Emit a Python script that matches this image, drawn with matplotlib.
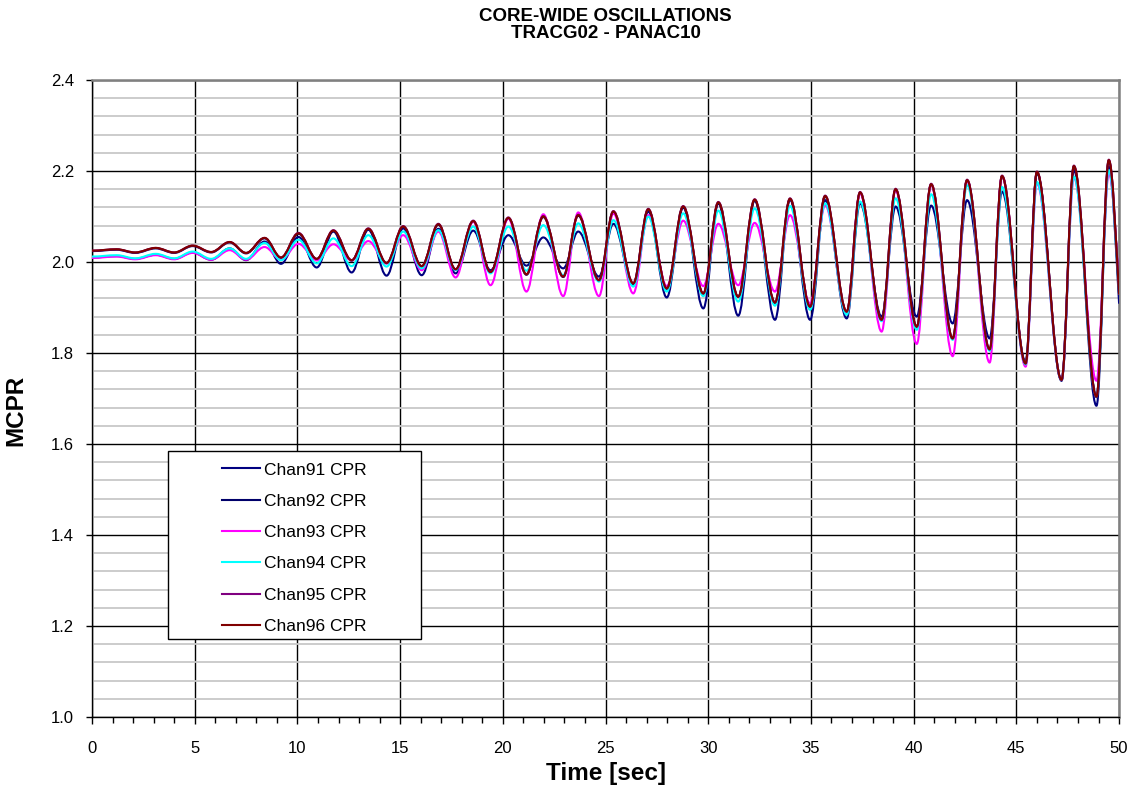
import numpy as np
import matplotlib
matplotlib.use("Agg")
import matplotlib.pyplot as plt
from matplotlib.path import Path
from matplotlib.patches import PathPatch, Rectangle
from matplotlib.lines import Line2D
from matplotlib.ticker import MultipleLocator

plt.rcParams['font.family'] = ['Liberation Sans', 'DejaVu Sans']

# times of the turning points (peaks / troughs) [sec]
t_ext = [0.0, 1.2, 2.1, 3.1, 4.0, 4.9, 5.8, 6.7, 7.5, 8.4, 9.2,
         10.05, 10.94, 11.75, 12.64, 13.45, 14.34, 15.15, 16.05, 16.86, 17.7,
         18.56, 19.4, 20.27, 21.15, 21.97, 22.94, 23.67, 24.68, 25.38, 26.35,
         27.08, 27.98, 28.78, 29.76, 30.49, 31.46, 32.26, 33.25, 33.98, 34.96,
         35.69, 36.74, 37.39, 38.44, 39.12, 40.15, 40.85, 41.9, 42.6, 43.7,
         44.3, 45.45, 46.0, 47.2, 47.8, 48.9, 49.5, 50.0]

# MCPR at those turning points
chan91 = [2.010, 2.013, 2.007, 2.016, 2.007, 2.021, 2.005, 2.030, 2.004, 2.045, 1.996,
          2.055, 1.988, 2.067, 1.977, 2.071, 1.970, 2.074, 1.971, 2.073, 1.975,
          2.069, 1.982, 2.059, 1.992, 2.054, 1.986, 2.067, 1.968, 2.084, 1.949,
          2.111, 1.922, 2.120, 1.898, 2.129, 1.882, 2.135, 1.873, 2.137, 1.873,
          2.136, 1.876, 2.129, 1.880, 2.122, 1.880, 2.124, 1.865, 2.136, 1.832,
          2.155, 1.781, 2.196, 1.739, 2.202, 1.684, 2.209, 1.91]
chan92 = [2.024, 2.027, 2.020, 2.030, 2.020, 2.035, 2.021, 2.043, 2.019, 2.052, 2.009,
          2.062, 2.006, 2.068, 2.003, 2.072, 1.997, 2.077, 1.990, 2.082, 1.983,
          2.089, 1.977, 2.096, 1.972, 2.099, 1.967, 2.102, 1.959, 2.110, 1.952,
          2.115, 1.941, 2.121, 1.930, 2.130, 1.923, 2.136, 1.910, 2.138, 1.901,
          2.144, 1.890, 2.152, 1.872, 2.159, 1.857, 2.170, 1.831, 2.179, 1.807,
          2.188, 1.776, 2.197, 1.740, 2.210, 1.703, 2.223, 1.93]
chan93 = [2.009, 2.012, 2.006, 2.015, 2.006, 2.020, 2.005, 2.026, 2.005, 2.033, 2.005,
          2.040, 2.004, 2.039, 2.004, 2.046, 1.997, 2.059, 1.982, 2.067, 1.966,
          2.089, 1.949, 2.096, 1.935, 2.105, 1.925, 2.109, 1.925, 2.107, 1.931,
          2.103, 1.947, 2.091, 1.947, 2.084, 1.949, 2.086, 1.935, 2.103, 1.909,
          2.125, 1.887, 2.151, 1.847, 2.158, 1.820, 2.170, 1.793, 2.179, 1.779,
          2.188, 1.770, 2.173, 1.741, 2.186, 1.739, 2.195, 1.95]
chan94 = [2.012, 2.015, 2.008, 2.018, 2.008, 2.023, 2.007, 2.030, 2.007, 2.042, 2.004,
          2.049, 1.997, 2.052, 1.991, 2.059, 1.990, 2.067, 1.986, 2.070, 1.982,
          2.078, 1.975, 2.078, 1.981, 2.081, 1.971, 2.085, 1.957, 2.092, 1.946,
          2.100, 1.935, 2.107, 1.925, 2.113, 1.913, 2.118, 1.904, 2.123, 1.895,
          2.129, 1.884, 2.133, 1.870, 2.140, 1.851, 2.149, 1.829, 2.169, 1.805,
          2.165, 1.775, 2.176, 1.741, 2.188, 1.704, 2.202, 1.93]
chan95 = [2.025, 2.028, 2.021, 2.031, 2.021, 2.036, 2.022, 2.044, 2.020, 2.053, 2.010,
          2.064, 2.007, 2.070, 2.004, 2.074, 1.998, 2.079, 1.991, 2.084, 1.984,
          2.091, 1.978, 2.098, 1.973, 2.101, 1.968, 2.104, 1.960, 2.112, 1.953,
          2.117, 1.942, 2.123, 1.931, 2.132, 1.924, 2.138, 1.911, 2.140, 1.902,
          2.146, 1.891, 2.154, 1.873, 2.161, 1.858, 2.172, 1.832, 2.181, 1.808,
          2.190, 1.777, 2.199, 1.741, 2.212, 1.704, 2.225, 1.93]
chan96 = [2.025, 2.028, 2.021, 2.031, 2.021, 2.036, 2.022, 2.044, 2.020, 2.053, 2.010,
          2.063, 2.007, 2.069, 2.004, 2.073, 1.998, 2.078, 1.991, 2.083, 1.984,
          2.090, 1.978, 2.097, 1.973, 2.100, 1.968, 2.103, 1.960, 2.111, 1.953,
          2.116, 1.942, 2.122, 1.931, 2.131, 1.924, 2.137, 1.911, 2.139, 1.902,
          2.145, 1.891, 2.153, 1.873, 2.160, 1.858, 2.171, 1.832, 2.180, 1.808,
          2.189, 1.777, 2.198, 1.741, 2.211, 1.704, 2.224, 1.93]

labels = ['Chan91 CPR', 'Chan92 CPR', 'Chan93 CPR', 'Chan94 CPR', 'Chan95 CPR', 'Chan96 CPR']
colors = ['#000080', '#00006a', '#ff00ff', '#00ffff', '#800080', '#800000']
series = [chan91, chan92, chan93, chan94, chan95, chan96]


def smooth_path(t, v, k=0.36):
    # bezier segments between turning points, flat tangent at each extremum
    verts = [(t[0], v[0])]
    codes = [Path.MOVETO]
    n = len(t)
    for i in range(n - 1):
        dt = t[i + 1] - t[i]
        if i == n - 2:
            end_ctrl = (t[i + 1] - k * dt, v[i + 1] + 0.45 * (v[i] - v[i + 1]))
        else:
            end_ctrl = (t[i + 1] - k * dt, v[i + 1])
        verts += [(t[i] + k * dt, v[i]), end_ctrl, (t[i + 1], v[i + 1])]
        codes += [Path.CURVE4] * 3
    return Path(verts, codes)


fig = plt.figure(figsize=(11.29, 7.93), dpi=100)
ax = fig.add_axes([0.0815, 0.0958, 0.9097, 0.8033])

for vals, c in zip(series, colors):
    ax.add_patch(PathPatch(smooth_path(t_ext, vals), fill=False, edgecolor=c,
                           lw=1.5, zorder=3, capstyle='round', joinstyle='round'))

ax.set_xlim(0, 50)
ax.set_ylim(1.0, 2.4)
ax.xaxis.set_major_locator(MultipleLocator(5))
ax.xaxis.set_minor_locator(MultipleLocator(1))
ax.yaxis.set_major_locator(MultipleLocator(0.2))
ax.yaxis.set_minor_locator(MultipleLocator(0.04))
ax.yaxis.set_major_formatter(plt.FormatStrFormatter('%.1f'))

ax.grid(which='minor', axis='y', color='#c8c8c8', lw=1.3, zorder=1)
ax.grid(which='major', axis='both', color='black', lw=1.0, zorder=2)
ax.set_axisbelow(True)

ax.tick_params(axis='x', which='major', direction='out', length=5, width=1, labelsize=12, pad=12)
ax.tick_params(axis='x', which='minor', direction='out', length=4, width=1)
ax.tick_params(axis='y', which='major', direction='out', length=4, width=1, labelsize=12, pad=9)
ax.tick_params(axis='y', which='minor', length=0)

for s in ['left', 'bottom']:
    ax.spines[s].set_color('black')
    ax.spines[s].set_linewidth(1.0)
for s in ['top', 'right']:
    ax.spines[s].set_color('#808080')
    ax.spines[s].set_linewidth(1.8)

# legend box
ax.add_patch(Rectangle((0.074, 0.122), 0.246, 0.296, transform=ax.transAxes,
                       facecolor='white', edgecolor='black', lw=1.0, zorder=4))
handles = [Line2D([], [], color=c, lw=1.5) for c in colors]
leg = ax.legend(handles, labels, loc='center', bbox_to_anchor=(0.197, 0.265),
                frameon=False, fontsize=12.5, labelspacing=0.93, handlelength=2.2,
                handletextpad=0.25)
leg.set_zorder(5)

fig.text(0.5365, 0.990, 'CORE-WIDE OSCILLATIONS\nTRACG02 - PANAC10', ha='center', va='top',
         fontsize=13.5, fontweight='bold', linespacing=1.0)
fig.text(0.5365, 0.025, 'Time [sec]', ha='center', va='center', fontsize=17.5, fontweight='bold')
fig.text(0.0145, 0.482, 'MCPR', ha='center', va='center', rotation=90, fontsize=17.5,
         fontweight='bold')

fig.savefig('out.png', dpi=100)
